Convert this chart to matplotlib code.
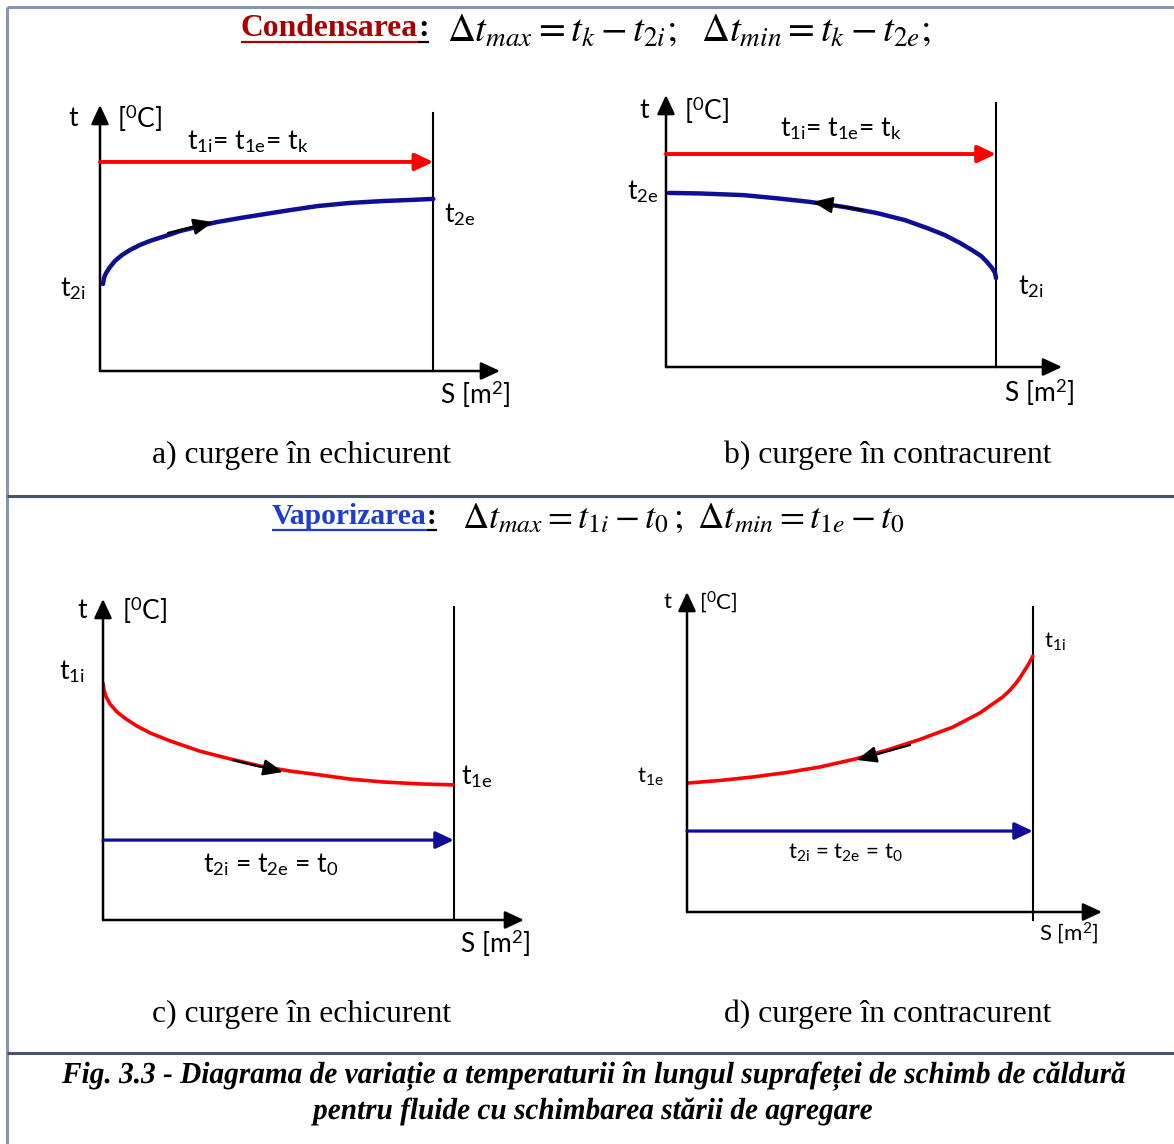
import numpy as np
import matplotlib
matplotlib.use('Agg')
from matplotlib import pyplot as plt
from matplotlib.textpath import TextPath
from matplotlib.patches import PathPatch
from matplotlib.transforms import Affine2D
from matplotlib.font_manager import FontProperties

plt.rcParams['mathtext.fontset'] = 'custom'
plt.rcParams['mathtext.rm'] = 'Lato'
plt.rcParams['mathtext.it'] = 'Lato:italic'

W, H = 1174, 1144

# S from 0 to 10 at the exit section, t in arbitrary units 0..100
S_END = 10
S_MAX = 12
T_MAX = 100

# a) condensation, parallel flow
a_t1 = 78.6
a_S2 = [0.09, 0.12, 0.18, 0.30, 0.45, 0.66, 0.90, 1.20, 1.50, 1.95, 2.40,
        3.00, 3.51, 4.20, 4.95, 5.71, 6.52, 7.51, 8.50, 9.31, 10.0]
a_t2 = [32.7, 35.0, 36.8, 39.1, 41.4, 43.6, 45.5, 47.4, 48.9, 50.7, 52.6,
        54.5, 56.0, 57.5, 59.0, 60.5, 62.0, 63.2, 63.9, 64.3, 64.7]
a_dir = ([2.04, 3.39], [51.9, 56.0])

# b) condensation, counter flow
b_t1 = 78.3
b_S2 = [0.09, 1.03, 2.33, 3.30, 4.36, 5.42, 6.39, 7.24, 7.91, 8.45, 8.91,
        9.27, 9.55, 9.73, 9.88, 9.97, 10.0]
b_t2 = [64.0, 63.8, 63.2, 62.1, 60.7, 58.8, 56.6, 54.0, 51.1, 48.5, 45.6,
        43.0, 40.8, 38.6, 36.4, 34.6, 32.7]
b_dir = ([5.97, 4.45], [57.7, 60.7])

# c) vaporization, parallel flow
c_t2 = 24.9
c_S1 = [0.0, 0.03, 0.09, 0.20, 0.40, 0.66, 0.97, 1.34, 1.91, 2.76, 3.62,
        4.47, 5.33, 6.18, 7.04, 7.98, 9.03, 9.97]
c_t1 = [73.8, 71.6, 69.5, 67.3, 64.8, 62.6, 60.4, 58.3, 55.8, 52.6, 50.2,
        48.0, 46.4, 45.2, 43.9, 43.0, 42.4, 42.1]
c_dir = ([3.70, 5.13], [49.8, 46.1])

# d) vaporization, counter flow
d_t2 = 25.3
d_S1 = [0.03, 0.95, 1.91, 2.89, 3.84, 4.86, 5.78, 6.73, 7.69, 8.47, 9.13,
        9.33, 9.50, 9.64, 9.77, 9.89, 10.0]
d_t1 = [40.3, 41.1, 42.2, 43.6, 45.3, 47.8, 50.6, 53.9, 57.8, 62.2, 67.2,
        69.2, 71.3, 73.4, 75.6, 77.7, 80.0]
d_dir = ([6.45, 4.91], [52.2, 47.5])

fig = plt.figure(figsize=(W / 100, H / 100), dpi=100)
ov = fig.add_axes([0, 0, 1, 1])
ov.set_xlim(0, W)
ov.set_ylim(H, 0)
ov.axis('off')
renderer = fig.canvas.get_renderer()

# frame of the table
ov.plot([7, 7], [7, H], color='#8496b0', lw=2.2, solid_capstyle='butt')
ov.plot([7, W], [7, 7], color='#8496b0', lw=2.2, solid_capstyle='butt')
for yy in (496, 1053):
    ov.plot([7, W], [yy, yy], color='#44546a', lw=2.2, solid_capstyle='butt')

BLUE = '#0f0f96'
RED = '#ff0000'


def panel(x0, y0, x_tip, y_tip, vtop, vbot=0):
    w = x_tip - x0
    h = y0 - y_tip
    ax = fig.add_axes([x0 / W, (H - y0) / H, w / W, h / H])
    ax.set_xlim(0, S_MAX)
    ax.set_ylim(0, T_MAX)
    ax.axis('off')
    ax.patch.set_alpha(0)
    st = '-|>,head_length=0.58,head_width=0.27'
    for tip in [(S_MAX, 0), (0, T_MAX)]:
        ax.annotate('', xy=tip, xytext=(0, 0),
                    arrowprops=dict(arrowstyle=st, color='black', lw=1.8,
                                    mutation_scale=20, shrinkA=0, shrinkB=0),
                    annotation_clip=False)
    ax.plot([S_END, S_END], [vbot, vtop], color='black', lw=1.5, clip_on=False)
    return ax


def flat_arrow(ax, t, color, lw):
    ax.annotate('', xy=(S_END, t), xytext=(0, t),
                arrowprops=dict(arrowstyle='-|>,head_length=0.55,head_width=0.26',
                                color=color, lw=lw, mutation_scale=20,
                                shrinkA=0, shrinkB=0),
                annotation_clip=False)


def dir_arrow(ax, d):
    ax.annotate('', xy=(d[0][1], d[1][1]), xytext=(d[0][0], d[1][0]),
                arrowprops=dict(arrowstyle='-|>,head_length=0.6,head_width=0.25',
                                color='black', lw=1.6, mutation_scale=20,
                                shrinkA=0, shrinkB=0))


ax_a = panel(100, 371, 500, 105, 97)
flat_arrow(ax_a, a_t1, RED, 2.8)
ax_a.plot(a_S2, a_t2, color=BLUE, lw=3.2, solid_capstyle='round',
          solid_joinstyle='round')
dir_arrow(ax_a, a_dir)

ax_b = panel(666, 367, 1062, 95, 97)
flat_arrow(ax_b, b_t1, RED, 2.8)
ax_b.plot(b_S2, b_t2, color=BLUE, lw=3.2, solid_capstyle='round',
          solid_joinstyle='round')
dir_arrow(ax_b, b_dir)

ax_c = panel(103, 920, 524, 599, 97.5)
flat_arrow(ax_c, c_t2, BLUE, 2.3)
ax_c.plot(c_S1, c_t1, color=RED, lw=2.6, solid_capstyle='round',
          solid_joinstyle='round')
dir_arrow(ax_c, c_dir)

ax_d = panel(687, 912, 1102, 592, 95.3, -2.5)
flat_arrow(ax_d, d_t2, BLUE, 2.3)
ax_d.plot(d_S1, d_t1, color=RED, lw=2.6, solid_capstyle='round',
          solid_joinstyle='round')
dir_arrow(ax_d, d_dir)

# labels inside the diagrams
lab = dict(family='Lato', color='black', va='center')
deg = r'[$^{\mathrm{0}}$C]'
sq = r'S [m$^{\mathrm{2}}$]'
kk = r't$_{\mathrm{1i}}$= t$_{\mathrm{1e}}$= t$_{\mathrm{k}}$'
oo = r't$_{\mathrm{2i}}$ = t$_{\mathrm{2e}}$ = t$_{\mathrm{0}}$'
ti = lambda s: r't$_{\mathrm{%s}}$' % s

for fs, items in [
    (19, [(73, 118, 't', 'center'), (117, 118, deg, 'left'),
          (248, 142, kk, 'center'), (444, 215, ti('2e'), 'left'),
          (60, 289, ti('2i'), 'left'), (440, 394, sq, 'left'),
          (644, 110, 't', 'center'), (684, 110, deg, 'left'),
          (841, 129, kk, 'center'), (627, 192, ti('2e'), 'left'),
          (1018, 287, ti('2i'), 'left'), (1004, 392, sq, 'left'),
          (82, 610, 't', 'center'), (122, 610, deg, 'left'),
          (59, 672, ti('1i'), 'left'), (461, 777, ti('1e'), 'left'),
          (271, 865, oo, 'center'), (460, 943, sq, 'left')]),
    (16, [(668, 602, 't', 'center'), (699, 602, deg, 'left'),
          (1044, 642, ti('1i'), 'left'), (637, 777, ti('1e'), 'left'),
          (845, 853, oo, 'center'), (1039, 933, sq, 'left')])]:
    for x, y, s, ha in items:
        ov.text(x, y, s, fontsize=fs, ha=ha, **lab)

# sub-figure captions
cap = dict(family='Liberation Serif', fontsize=22.8, ha='center', va='center')
ov.text(302, 455, 'a) curgere în echicurent', **cap)
ov.text(888, 455, 'b) curgere în contracurent', **cap)
ov.text(302, 1014, 'c) curgere în echicurent', **cap)
ov.text(888, 1014, 'd) curgere în contracurent', **cap)


def fit(t, width):
    bb = t.get_window_extent(renderer)
    t.set_fontsize(t.get_fontsize() * width / bb.width)
    return t


# section headings with the temperature differences
def heading(word, color, x0, x1, y, uline_y, formula, fx0, fx1):
    t = ov.text(x0, y, word, family='Liberation Serif', weight='bold',
                color=color, fontsize=22, ha='left', va='center')
    fit(t, x1 - x0)
    colon = ov.text(x1, y, ':', family='Liberation Serif', weight='bold',
                    color='black', fontsize=t.get_fontsize(), ha='left', va='center')
    cw = colon.get_window_extent(renderer).width
    ov.plot([x0, x1], [uline_y, uline_y], color=color, lw=1.6, solid_capstyle='butt')
    ov.plot([x1, x1 + cw], [uline_y, uline_y], color='black', lw=1.6,
            solid_capstyle='butt')
    f = ov.text(fx0, y + 2, formula, fontsize=20, ha='left', va='center',
                math_fontfamily='stix')
    fit(f, fx1 - fx0)


heading('Condensarea', '#a80000', 241, 418, 28, 42,
        r'$\Delta t_{max} = t_k - t_{2i};\ \ \Delta t_{min} = t_k - t_{2e};$',
        447, 932)
heading('Vaporizarea', '#1c3fd0', 272, 427, 516, 530,
        r'$\Delta t_{max} = t_{1i} - t_0\,;\ \Delta t_{min} = t_{1e} - t_0$',
        462, 905)

# figure caption, condensed bold italic serif drawn as outlines
fp = FontProperties(family='Liberation Serif', weight='bold', style='italic')
cap_h = TextPath((0, 0), 'H', size=100, prop=fp).get_extents().height


def squeezed(s, x0, x1, base, capheight):
    tp = TextPath((0, 0), s, size=100, prop=fp)
    ext = tp.get_extents()
    sy = capheight / cap_h
    sx = (x1 - x0) / ext.width
    tr = Affine2D().translate(-ext.x0, 0).scale(sx, -sy).translate(x0, base)
    ov.add_patch(PathPatch(tr.transform_path(tp), fc='black', lw=0))


squeezed('Fig. 3.3 - Diagrama de variație a temperaturii în lungul suprafeței de schimb de căldură',
         62, 1125, 1083, 20)
squeezed('pentru fluide cu schimbarea stării de agregare', 311, 872, 1119, 20)

fig.savefig('out.png', dpi=100)
